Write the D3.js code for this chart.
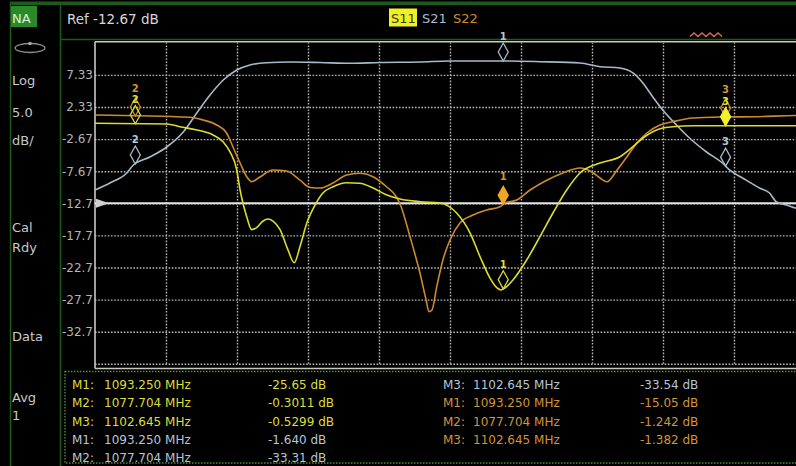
<!DOCTYPE html>
<html><head><meta charset="utf-8">
<script src="https://cdn.jsdelivr.net/npm/d3@7"></script>
<style>
html,body{margin:0;padding:0;background:#000;overflow:hidden}
svg{display:block}
text{font-family:"DejaVu Sans",Verdana,sans-serif}
</style>
</head><body>
<svg id="c" width="796" height="466"></svg>
<script>
// ---------- data ----------
const freqStart = 1076, freqStop = 1106;            // MHz (10 divisions of 3 MHz)
const dbTop = 12.33, dbBottom = -37.67;             // 5 dB/div
const refLevel = -12.67;
const freqDivs = [1079, 1082, 1085, 1088, 1091, 1094, 1097, 1100, 1103];
const yTicks = [7.33, 2.33, -2.67, -7.67, -12.67, -17.67, -22.67, -27.67, -32.67];
const yTickLabels = ["7.33", "2.33", "-2.67", "-7.67", "-12.7", "-17.7", "-22.7", "-27.7", "-32.7"];
const sideLabels = ["Log", "5.0", "dB/", "Cal", "Rdy", "Data", "Avg", "1"];

const markerFreqs = [1093.250, 1077.704, 1102.645];
const markerNames = ["1", "2", "3"];

const s11Freq = [1076.0, 1079.04, 1079.59, 1080.31, 1080.99, 1081.41, 1081.70, 1081.99, 1082.13, 1082.25, 1082.41, 1082.62, 1082.83, 1083.10, 1083.31, 1083.52, 1083.82, 1084.15, 1084.42, 1084.66, 1084.95, 1085.30, 1085.63, 1086.06, 1086.63, 1087.19, 1087.75, 1088.33, 1088.89, 1089.74, 1090.58, 1091.28, 1091.85, 1092.27, 1092.69, 1092.99, 1093.15, 1093.32, 1093.66, 1094.24, 1094.80, 1095.35, 1095.93, 1096.49, 1097.34, 1098.18, 1098.73, 1099.15, 1099.57, 1099.99, 1100.41, 1101.26, 1106.0];
const s11Db = [-0.21, -0.32, -0.74, -1.25, -2.03, -3.08, -4.63, -7.48, -10.6, -12.62, -14.76, -16.77, -16.46, -15.43, -15.11, -15.43, -16.77, -19.89, -21.92, -19.43, -15.74, -12.93, -11.07, -10.08, -9.46, -9.55, -10.29, -11.38, -12.0, -12.42, -12.62, -14.18, -17.30, -20.99, -24.31, -25.86, -26.17, -25.86, -24.62, -21.5, -17.87, -14.18, -10.6, -7.95, -6.39, -5.41, -3.85, -2.5, -1.52, -0.94, -0.74, -0.58, -0.58];

const s21Freq = [1076.0, 1076.63, 1077.34, 1077.62, 1078.32, 1079.03, 1079.73, 1080.30, 1080.86, 1081.42, 1081.99, 1082.55, 1083.25, 1084.24, 1085.51, 1086.77, 1088.04, 1089.73, 1091.0, 1093.24, 1094.80, 1096.49, 1097.34, 1098.18, 1098.73, 1099.15, 1099.57, 1099.99, 1100.57, 1101.12, 1101.84, 1102.51, 1102.81, 1103.36, 1104.08, 1104.50, 1104.80, 1105.22, 1105.60, 1106.0];
const s21Db = [-10.60, -9.51, -7.95, -6.70, -5.46, -3.90, -1.56, 1.40, 4.20, 6.54, 8.09, 8.87, 9.23, 9.34, 9.26, 9.14, 9.26, 9.34, 9.50, 9.50, 9.39, 9.18, 8.61, 8.40, 7.63, 6.07, 3.89, 1.86, -0.47, -2.50, -4.68, -6.39, -7.48, -8.73, -10.29, -11.07, -12.47, -12.93, -13.40, -13.6];

const s22Freq = [1076.0, 1080.01, 1080.56, 1081.14, 1081.56, 1081.83, 1082.13, 1082.41, 1082.63, 1082.97, 1083.52, 1084.10, 1084.66, 1085.09, 1085.51, 1086.06, 1086.63, 1087.19, 1087.75, 1088.33, 1088.68, 1088.89, 1089.31, 1089.73, 1089.99, 1090.11, 1090.24, 1090.44, 1090.70, 1091.0, 1091.42, 1091.97, 1092.55, 1093.11, 1093.32, 1093.82, 1094.38, 1095.09, 1095.77, 1096.49, 1097.0, 1097.34, 1097.63, 1098.06, 1098.48, 1098.90, 1099.32, 1099.87, 1100.41, 1101.26, 1102.40, 1103.97, 1105.62, 1106.0];
const s22Db = [1.08, 0.73, 0.31, -0.47, -1.72, -3.90, -6.39, -8.53, -9.31, -8.57, -7.48, -7.64, -9.07, -10.21, -10.29, -9.51, -8.26, -8.0, -8.53, -10.13, -11.38, -12.78, -17.87, -23.53, -27.73, -29.55, -29.29, -25.66, -21.5, -18.39, -15.74, -14.49, -13.71, -13.2, -12.62, -12.16, -10.6, -9.07, -7.95, -7.17, -7.8, -8.73, -9.31, -7.48, -5.41, -3.28, -1.72, -0.47, 0.04, 0.62, 0.77, 0.82, 1.01, 1.01];

const tableMarkers = ["M1:", "M2:", "M3:", "M1:", "M2:", "M3:", "M1:", "M2:", "M3:"];
const tableFreqs = ["1093.250 MHz", "1077.704 MHz", "1102.645 MHz", "1093.250 MHz", "1077.704 MHz", "1102.645 MHz", "1093.250 MHz", "1077.704 MHz", "1102.645 MHz"];
const tableValues = ["-25.65 dB", "-0.3011 dB", "-0.5299 dB", "-1.640 dB", "-33.31 dB", "-33.54 dB", "-15.05 dB", "-1.242 dB", "-1.382 dB"];
const tableTrace = [0, 0, 0, 1, 1, 1, 2, 2, 2];

// ---------- styles ----------
const traceColors = ["#dcdc2c", "#a6bac9", "#cc8a2c"];
const textColors = ["#dede36", "#b4c6d4", "#d49436"];
const fillColors = ["#f2f22a", "#b4c6d4", "#f2a626"];
const labelLift = [21, 21, 24];

const svg = d3.select("#c");
svg.append("rect").attr("width", 796).attr("height", 466).attr("fill", "#000");

const plotL = 95, plotR = 805, plotT = 42.8, plotB = 363.8;
const x = d3.scaleLinear().domain([freqStart, freqStop]).range([plotL, plotR]);
const y = d3.scaleLinear().domain([dbTop, dbBottom]).range([plotT, plotB]);

// frame
const green = "#1d5a1d";
svg.append("rect").attr("x", 10).attr("y", 1.5).attr("width", 786).attr("height", 3.5).attr("fill", green);
svg.append("line").attr("x1", 10.5).attr("x2", 10.5).attr("y1", 2).attr("y2", 466).attr("stroke", green).attr("stroke-width", 1.5);
svg.append("line").attr("x1", 60.5).attr("x2", 60.5).attr("y1", 2).attr("y2", 466).attr("stroke", green).attr("stroke-width", 1.5);
svg.append("line").attr("x1", 60).attr("x2", 796).attr("y1", 39.5).attr("y2", 39.5).attr("stroke", green).attr("stroke-width", 1.5);

// NA box
svg.append("rect").attr("x", 11).attr("y", 6).attr("width", 26).attr("height", 21).attr("fill", "#2a8a2a");
svg.append("text").attr("x", 12).attr("y", 23).attr("font-size", 13).attr("fill", "#d6f2d6").text("NA");
// icon
svg.append("ellipse").attr("cx", 30).attr("cy", 48).attr("rx", 15).attr("ry", 4.5).attr("fill", "none").attr("stroke", "#8c8c8c").attr("stroke-width", 1.3);
svg.append("circle").attr("cx", 30).attr("cy", 43.5).attr("r", 1.8).attr("fill", "#a8a8a8");

// side labels
const sideY = [85, 117, 145, 232, 252, 341, 402, 420];
svg.append("g").selectAll("text").data(sideLabels).join("text")
  .attr("x", 12).attr("y", (d, i) => sideY[i]).attr("font-size", 13).attr("fill", "#c8c8c8").text(d => d);

// header
svg.append("text").attr("x", 67).attr("y", 24).attr("font-size", 13.5).attr("fill", "#d8d8d8").text("Ref -12.67 dB");
svg.append("rect").attr("x", 389).attr("y", 8.5).attr("width", 28).attr("height", 18).attr("fill", "#f0f020");
const hdrX = [391, 422, 453];
const hdrCol = ["#3a3a10", "#a8bccc", "#d08a30"];
svg.append("g").selectAll("text").data(traceColors).join("text")
  .attr("x", (d, i) => hdrX[i]).attr("y", 23).attr("font-size", 13)
  .attr("fill", (d, i) => hdrCol[i]).text((d, i) => ["S11", "S21", "S22"][i]);

// sweep indicator
const zig = d3.range(0, 9).map(i => [690 + i * 4, i % 2 ? 33 : 36.5]);
svg.append("path").attr("d", d3.line()(zig)).attr("fill", "none").attr("stroke", "#d46a52").attr("stroke-width", 1.5);

// grid via axes
const gridStyle = g => {
  g.select(".domain").remove();
  g.selectAll(".tick line").attr("stroke", "#b8b8b8").attr("stroke-width", 1.4).attr("stroke-dasharray", "1.6,1.6");
};
const yAxis = d3.axisLeft(y).tickValues(yTicks.concat([dbBottom]))
  .tickFormat((d, i) => yTickLabels[i] || "").tickSize(-(plotR - plotL)).tickPadding(2);
svg.append("g").attr("transform", `translate(${plotL},0)`).call(yAxis).call(gridStyle)
  .call(g => g.selectAll("text").attr("fill", "#b4b4b4").attr("font-size", 12).attr("font-family", "DejaVu Sans"));
const xAxis = d3.axisBottom(x).tickValues(freqDivs).tickFormat("").tickSize(-(plotB - plotT));
svg.append("g").attr("transform", `translate(0,${plotB})`).call(xAxis).call(gridStyle);

// plot border
svg.append("line").attr("x1", plotL).attr("x2", 796).attr("y1", 41.8).attr("y2", 41.8).attr("stroke", "#c4d2b6").attr("stroke-width", 1.6);
svg.append("line").attr("x1", plotL).attr("x2", plotL).attr("y1", 41.8).attr("y2", 368.5).attr("stroke", "#c8c8c8").attr("stroke-width", 1.6);
svg.append("line").attr("x1", plotL).attr("x2", 796).attr("y1", 368.5).attr("y2", 368.5).attr("stroke", "#c8c8c0").attr("stroke-width", 1.6);

// reference line + arrow
const yr = y(refLevel);
svg.append("line").attr("x1", plotL).attr("x2", 796).attr("y1", yr).attr("y2", yr).attr("stroke", "#e6e6e6").attr("stroke-width", 2);
svg.append("path").attr("d", `M${plotL + 1},${yr - 4.5}L${plotL + 14},${yr}L${plotL + 1},${yr + 4.5}Z`).attr("fill", "#d0d0d0");

// traces
const traces = [
  { freq: s11Freq, db: s11Db, active: 2 },
  { freq: s21Freq, db: s21Db, active: -1 },
  { freq: s22Freq, db: s22Db, active: 0 }
];
svg.append("clipPath").attr("id", "pc").append("rect").attr("x", plotL).attr("y", plotT - 2).attr("width", plotR - plotL).attr("height", plotB - plotT + 4);
const line = d3.line().x(d => x(d[0])).y(d => y(d[1])).curve(d3.curveMonotoneX);
const drawOrder = [1, 2, 0];
const tg = svg.append("g").attr("clip-path", "url(#pc)");
drawOrder.forEach(ti => {
  const t = traces[ti];
  tg.append("path").datum(t.freq.map((f, i) => [f, t.db[i]]))
    .attr("d", line).attr("fill", "none").attr("stroke", traceColors[ti])
    .attr("stroke-width", 1.6).attr("stroke-linejoin", "round");
});

// markers
function valueAt(fr, vals, f) {
  const i = Math.max(1, d3.bisectLeft(fr, f));
  const t = (f - fr[i - 1]) / (fr[i] - fr[i - 1]);
  return vals[i - 1] + t * (vals[i] - vals[i - 1]);
}
const mg = svg.append("g");
drawOrder.forEach(ti => {
  const t = traces[ti];
  markerFreqs.forEach((mf, mi) => {
    const px = x(mf), py = y(valueAt(t.freq, t.db, mf));
    const active = t.active === mi;
    mg.append("path")
      .attr("d", `M${px},${py}L${px + 5},${py - 9}L${px},${py - 18}L${px - 5},${py - 9}Z`)
      .attr("fill", active ? fillColors[ti] : "none")
      .attr("stroke", active ? fillColors[ti] : traceColors[ti]).attr("stroke-width", 1.3);
    mg.append("text").attr("x", px).attr("y", py - labelLift[ti]).attr("text-anchor", "middle")
      .attr("font-size", 10).attr("font-weight", "bold").attr("fill", textColors[ti]).text(markerNames[mi]);
  });
});

// marker table
svg.append("rect").attr("x", 65).attr("y", 371.5).attr("width", 740).attr("height", 91.5)
  .attr("fill", "none").attr("stroke", "#4f8c3c").attr("stroke-width", 1.4).attr("stroke-dasharray", "1.5,1.5");
const rowY = [389, 407, 425.5, 444, 462];
const colL = [72, 104, 268], colR = [443, 473, 640];
const tbl = svg.append("g").attr("font-size", 12);
tableMarkers.forEach((m, i) => {
  const cols = i < 5 ? colL : colR;
  const ry = rowY[i < 5 ? i : i - 5];
  const c = textColors[tableTrace[i]];
  tbl.append("text").attr("x", cols[0]).attr("y", ry).attr("fill", c).text(m);
  tbl.append("text").attr("x", cols[1]).attr("y", ry).attr("fill", c).text(tableFreqs[i]);
  tbl.append("text").attr("x", cols[2]).attr("y", ry).attr("fill", c).text(tableValues[i]);
});
</script>
</body></html>
